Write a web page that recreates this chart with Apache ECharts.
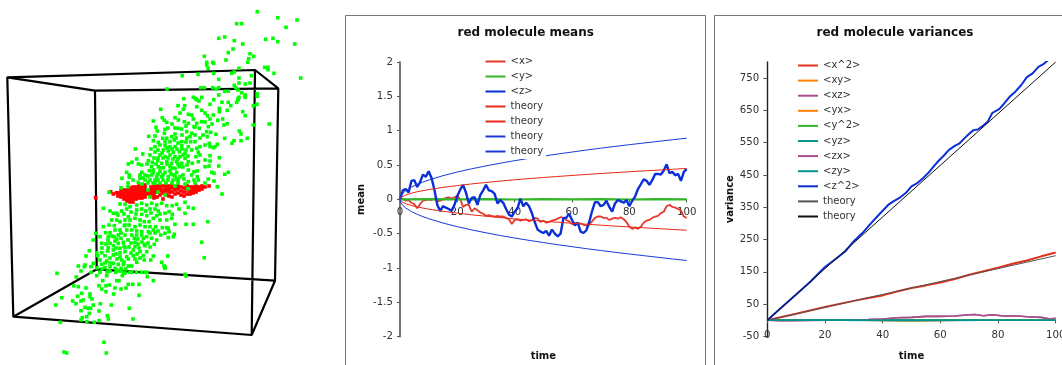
<!DOCTYPE html>
<html><head><meta charset="utf-8">
<style>html,body{margin:0;padding:0;background:#fff}#c{width:1062px;height:365px}</style>
<script src="https://cdn.jsdelivr.net/npm/echarts@6/dist/echarts.min.js"></script>
</head><body><div id="c"></div>
<script>
// ---- wire cube seen in the left panel (panel pixel units) ----
const cubeEdges = [[7.3,77.3],[255,70],[278.3,88.3],[95,90.7],[7.3,77.3],[13.3,316.7],[251.7,335],[275,280.7],[96.7,269.3],[13.3,316.7],null,
  [255,70],[251.7,335],null,[278.3,88.3],[275,280.7],null,[95,90.7],[96.7,269.3]];
const greenDots = [[257.3,11.7],[277.7,17.7],[297,20],[286,27.3],[236.7,23.7],[241.7,23.7],[218.7,38.3],[224.7,37],[234.3,40.7],[242.7,44],[265.7,39.3],[273,38.3],[277.7,41.7],[294.7,44],[233,49],[228.3,52.7],[250,53.7],[253.7,56.3],[248.7,58.7],[247.7,62.3],[204.3,56.3],[226,60],[206.7,62.3],[212.7,62.3],[213.7,63.3],[206.7,65],[208,68.3],[239,68.3],[264.7,67.3],[268,67.3],[268,69.7],[274,73.3],[300.7,78],[182.3,75.7],[198,74.3],[213.7,73.3],[231.7,73.3],[234.3,72],[251.3,75.7],[218.7,79.3],[239,78],[239,83],[245.3,84],[250,83],[234.3,85.3],[167,89],[200.7,87.7],[204.3,87.7],[212.7,87.7],[216,89],[218.7,87.7],[224.7,91.3],[228.3,91.3],[235.7,87.7],[238,90],[241.7,92.7],[218.7,95],[245.3,95],[245.3,97.3],[257.3,93.7],[257.3,96.3],[239,97.3],[183.7,98.7],[193.3,97.3],[195.7,98.7],[201.7,97.3],[213.7,99.7],[238,99.7],
[196.7,99.7],[199,101],[222,102.3],[228.3,102.3],[230.7,105.7],[236.7,102.3],[238.3,98.7],[245,96.7],[257,104.3],[253.3,105.7],[178,105.7],[184.7,105.7],[183.3,109.3],[196.7,106.7],[210,104.3],[219.3,108.3],[219.3,111.7],[227.3,110.3],[160.7,109.3],[180,113],[175,117.7],[178.3,120],[188.3,114.3],[191.7,115],[201.7,110.3],[205,113],[207.3,115.7],[210,119],[213.3,115],[217.7,120.3],[222.7,119],[227.3,123.7],[224,125],[242.7,111.7],[245.3,115.7],[153.3,121],[162.3,117.7],[164.3,120.3],[166.7,122.3],[184.3,121.7],[188.3,123.3],[193.3,119],[196.7,123.3],[201.7,121.7],[194,126.7],[199.3,128.3],[208.3,126.7],[178.3,128.3],[181.7,129],[156,127.3],[157.3,131],[165,129.3],[164.3,133.3],[186.7,131.7],[191.7,133.3],[190,136.7],[175,134],[171.7,136.7],[206.7,131.7],[210.7,132.3],[207.3,136.7],[216,134.3],[239.3,131],[241,134],[148.7,136.3],[224.7,138.3],[234,140.7],[232,143.3],[241,140.7],[247.3,138.3],[269.3,124],[253.3,125],
[153.3,140.7],[158.3,142.3],[162.7,138.3],[166.7,138.3],[170,141.7],[174.3,140],[181.7,141.7],[186.7,138.3],[190.7,141.7],[195,141.7],[200,146.7],[205,145],[209.3,143.3],[210,146.7],[217.3,144.3],[215,146.7],[213.3,147.7],[155,146.7],[151,149],[135.3,149],[160,145],[165,145.7],[170,146.7],[175,146.7],[181.7,145.7],[188.3,146.7],[191.7,150],[196.7,148.3],[142.7,154],[163.3,150],[168.3,151],[173.3,152.3],[179.3,151.7],[185,153.3],[198.3,152.3],[200,155],[196,156.7],[160,155],[165,156.7],[170,155],[175,156.7],[180,156.7],[185,158.3],[210,155.7],[205,160],[210,161],[219.3,157.7],[136.7,159],[148.3,160.7],[152.3,162.3],[157.7,160.7],[161.7,163.3],[166.7,161.7],[171.7,163.3],[176.7,161.7],[181.7,163.3],[188.3,161.7],[192.3,163.3],[198.3,161.7],[128.3,164],[132,162.3],[138.3,164],[141.7,165],[151.7,166.7],[158.3,166.7],[163.3,167.7],[170,166.7],[175,168.3],[179.3,166.7],[205,166.7],[209,166],[218.7,166],[149.3,170.7],[153.3,170],[160,171.7],[165,172.3],[170,171],[176.7,172.3],[188.3,170],[194,171.7],[197.3,171],[126.7,172.3],[129.3,175],[141.7,172.3],[211.7,172.3],[214,173.3],[228.3,172.3],[224.7,174.3],[140,175],[145,175],[151.7,175],[156.7,176.7],[161.7,176.7],[168.3,176.7],[173.3,175],[180,176.7],[191.7,175],[197.3,176.7],[122,178.3],[129.3,177.3],[140,178.3],[145,180],[150,180],[155,180],[176.7,179],[194,180],[198.3,180],[208.3,179],[214,181],[138.3,182.3],[188.3,181.7],
[158,150],[162,153],[167,148],[172,149],[177,149],[182,149],[186,150],[158,158],[163,158],[168,158],[173,159],[178,159],[183,155],[188,156],[155,152],[150,155],[154,158],[147,164],[156,164],[160,168],[167,164],[172,168],[178,164],[183,167],[187,165],[153,173],[158,174],[163,175],[171,174],[175,176],[148,176],[143,178],[148,183],[153,183],[158,180],[163,180],[168,180],[173,180],[178,180],[183,175],[184,179],[155,136],[175,128],[195,135],[200,138],[182,135],[168,128],[172,124],[186,126],[205,122],[212,124],[176,138],[165,142],[195,127],[203,135],[178,143],[186,142],[133,180],[160,183],[172,183],[185,184],
[121,187.7],[217.3,186.7],[222,194],[109,192.3],[128,186.7],[148,190],[158,192],[175,186],[188,188.7],[150,197],[165,195],[128,183],[142,184],[155,183],[166,183],[178,183],[195,183],[205,183],
[103.3,208.3],[110,211],[120,204],[125,204.3],[130,206.7],[126.7,209],[121.7,211],[116.7,213.3],[113.3,213.3],[136.7,205],[141.7,203.3],[146.7,205],[151.7,203.3],[156.7,205],[161.7,203.3],[136.7,210],[141.7,209],[145.7,211],[150,209],[155,209],[158.3,211],[166.7,205.7],[172.3,205.7],[176.7,204.3],[179,209],[185,202.3],[188.3,207.3],[193.3,208.3],[185,213.3],[165,213.3],[169,211.7],[172.3,214.3],[166.7,220],[171.7,218.3],[141.7,214.3],[146.7,215.7],[156.7,215.7],[153.3,218.3],[160,220],[128.3,216.7],[125,220],[130,220],[135,218.3],[140,220],[144.3,221.7],[149,221.7],[111.7,220],[116.7,220],[120,221.7],[103.3,226.7],[109,225],[114.3,225.7],[124.3,225.7],[129,225],[135,226.7],[140,225],[145,226.7],[150,226.7],[155.7,226.7],[175,224.3],[186,224.3],[193.3,224.3],[207.7,221.7],[162.3,227.7],[166.7,227.7],[115,230],[120,230],[126.7,230],[131.7,230],[136.7,231],[141.7,231.7],[148.3,231.7],[153.3,230],[168.3,228.3],[105.7,232.7],[110,232.7],[95.7,233.3],[100,236.7],[108.3,236.7],[114,236.7],[118.3,235],[125,235],[131.7,235],[136.7,235],[141.7,235],[146.7,236.7],[160.7,235],[165,233.3],[169,231.7],[174.3,234.3],[173.3,236.7],[116.7,239],[121,238.3],[134.3,238.3],[137.7,239],[143.3,238.3],[151.7,238.3],[156.7,240],[168.3,237.7],[93.3,240],[110,243.3],[101.7,243.3],[118.3,243.3],[123.3,242.3],[135,242.3],[144.3,244.3],[154.3,244.3],[201.7,242.3],[113.3,245.7],[108.3,247.7],[120,248.3],[125,247.7],[135,246.7],[145,245.7],[89.3,250.7],[96.7,252.7],[101.7,252.7],[107.7,251],[113.3,250],[120,252.7],[125,251.7],[133.3,250],[140,251.7],[146.7,251.7],[86,256],[97.7,255.7],[105,255.7],[113.3,255],[120,256.7],[126.7,256.7],[133.3,255.7],[143.3,255.7],[153.3,256],[167.7,256],[204.3,257.7],[100,260],[106.7,261],[121.7,260],[128.3,259],[144.3,260],[150.7,260],[161.7,262.3],[136.7,262.3],[93.3,263.3],[101.7,264.3],[113.3,263.3],[118.3,264.3],[123.3,264.3],[128.3,266],[131.7,266],[85,265],[91,266.7],[164,266],[105,267.7],[110,266.7],[115,268.3],[121,268.3],[125.7,269],[165,268.3],[91,272.3],[100,272.3],[110,271],[115.7,272.3],[121.7,271],[130,272.3],[145.7,272.3],[136.7,272.3],[185,274.3],
[118,215],[124,214],[131,212],[136,214],[151,213],[160,214],[125,225],[121,233],[128,240],[131,243],[124,246],[138,244],[115,241],[112,236],[108,240],[102,248],[106,244],[116,248],[129,247],[131,253],[137,254],[116,254],[110,258],[117,259],[124,262],[110,263],[105,263],[97,268],[102,269],[107,272],[119,271],[125,273],[139,248],[142,242],[150,233],[155,233],[158,231],[148,243],[150,247],[140,258],[135,259],
[57,273.3],[76.3,277],[81,271],[78.3,266],[84.3,266.7],[96.7,275.7],[106.7,275.7],[108.3,271],[116.7,270],[123.3,273.3],[122.3,275.7],[131.7,272.3],[141.7,272.3],[146.7,272.3],[147.3,276.7],[165,266.7],[186,276],[102.7,280.7],[116.7,280.7],[119,280.7],[153.3,280.7],[73.7,285.7],[78.3,286.7],[86,288],[99,285.7],[101.7,289],[106,285.7],[109.3,285],[115,288],[121,289],[126,288],[128.3,284.3],[132.7,284.3],[139,284.3],[106,291.7],[113.7,294],[139,295.3],[81.7,293.3],[77.7,296.3],[90,294],[90,296.7],[61.7,297.7],[92,299],[83.3,300],[81,301],[72.7,301],[76,303.7],[55.7,305],[100.3,303.7],[111.3,305],[93.3,305],[85,307.3],[88.3,308.3],[90.7,308.3],[129.3,308.3],[81,310.7],[99,311],[89.3,313.3],[107.3,315.7],[108.3,319],[86.7,316.7],[82.3,317.7],[81,320],[133,319],[86.7,321.7],[99,320.7],[94.3,322.3],[60.3,322.3],[104,342.3],[64,352],[66.7,353],[106.3,353]];
const redDots = [[95.7,197.7],[110.7,191.7],[113.3,194],[116.7,192.7],[118,193],[118,196],[121,191],[121,194],[121,197],[124,190],[124,193],[124,196],[124,199],[127,190],[127,193],[127,196],[127,199],[127,201],[130,188],[130,191],[130,194],[130,197],[130,200],[130,202],[133,187],[133,190],[133,193],[133,196],[133,199],[133,202],[136,187],[136,190],[136,193],[136,196],[136,199],[139,186],[139,189],[139,192],[139,195],[139,198],[142,186],[142,189],[142,192],[142,195],[142,198],[145,185],[145,188],[145,191],[145,194],[145,197],[148,191],[148,194],[151,187],[151,190],[151,193],[151,196],[154,186],[154,189],[154,192],[154,195],[154,198],[157,186],[157,189],[157,192],[157,197],[160,185],[160,188],[160,191],[160,195],[163,186],[163,190],[163,193],[163,199],[166,185],[166,188],[166,191],[166,195],[169,186],[169,189],[169,192],[169,196],[172,185],[172,188],[172,192],[172,197],[175,187],[175,190],[175,194],[178,186],[178,189],[178,193],[181,187],[181,191],[181,195],[184,188],[184,192],[184,196],[187,186],[187,190],[187,194],[190,187],[190,191],[190,194],[193,187],[193,190],[193,193],[196,186],[196,189],[196,192],[199,187],[199,190],[202,186],[202,189],[205,187],[209,186]];

// ---- red molecule means ----
const meanX = [0,.01,-.02,-.01,-.05,-.07,-.13,-.07,-.02,-.01,0,-.01,.01,-.03,-.02,0,.02,.03,.01,.03,.05,0,-.11,-.08,-.08,-.18,-.13,-.16,-.19,-.21,-.24,-.23,-.24,-.25,-.24,-.25,-.25,-.27,-.29,-.36,-.3,-.29,-.31,-.3,-.29,-.32,-.3,-.27,-.28,-.33,-.31,-.34,-.33,-.31,-.3,-.28,-.26,-.27,-.3,-.32,-.36,-.34,-.36,-.35,-.37,-.38,-.37,-.32,-.27,-.25,-.25,-.27,-.27,-.3,-.28,-.27,-.28,-.26,-.29,-.33,-.4,-.43,-.41,-.43,-.4,-.34,-.31,-.3,-.27,-.25,-.24,-.2,-.18,-.1,-.08,-.11,-.12,-.14,-.16,-.25,-.27];
const meanY = [[0,0],[10,.003],[20,0],[30,.002],[40,-.002],[50,.002],[60,0],[70,.002],[80,-.002],[90,.002],[100,0]];
const meanZ = [0,.13,.15,.1,.27,.28,.18,.25,.36,.33,.41,.31,.14,-.08,-.17,-.1,-.12,-.14,-.17,-.08,.05,.14,.21,.1,-.06,.02,.03,-.08,.06,.13,.21,.13,.12,.08,-.06,-.01,-.05,-.14,-.22,-.25,-.18,-.13,.01,-.1,-.05,-.1,-.2,-.33,-.44,-.47,-.49,-.46,-.53,-.44,-.5,-.54,-.5,-.27,-.27,-.21,-.3,-.38,-.34,-.47,-.49,-.45,-.33,-.17,-.04,-.04,-.1,-.08,-.02,-.11,-.18,-.06,-.01,-.03,-.05,-.01,-.1,-.02,.04,.15,.22,.29,.27,.21,.28,.37,.37,.36,.42,.51,.38,.4,.35,.37,.27,.4,.44];
const theoryTimes = [0,.25,.5,1,2,4,6,8,10,15,20,25,30,35,40,45,50,55,60,65,70,75,80,85,90,95,100];
const theoryRed =   [0,.022,.032,.045,.064,.09,.11,.127,.142,.174,.2,.225,.246,.266,.285,.302,.318,.333,.348,.362,.376,.389,.402,.414,.426,.438,.45];
const theoryBlue =  [0,.044,.063,.089,.126,.178,.218,.252,.281,.345,.398,.445,.487,.527,.563,.597,.629,.66,.689,.718,.745,.771,.796,.82,.844,.868,.89];

// ---- red molecule variances ----
const varXX = [[0,0],[10,20],[20,41],[30,60],[35,69],[40,77],[45,89],[50,100],[55,108],[60,117],[65,128],[70,141],[75,152],[80,163],[85,175],[90,185],[95,198],[100,210]];
const varXY = [[0,0],[25,1],[50,-1],[75,1],[100,0]];
const varXZ = [[0,0],[5,-1],[20,0],[30,1],[35,2],[40,4],[45,8],[50,9],[55,12],[60,12],[65,13],[70,17],[72,18],[75,14],[78,17],[82,13],[87,13],[90,11],[95,9],[98,4],[100,6]];
const varYY = [[0,0],[50,.5],[100,.5]];
const varYZ = [[0,0],[25,.5],[50,-.5],[75,0],[100,0]];
const varZZ = [[0,0],[5,40],[10,80],[15,120],[20,165],[23,185],[27,213],[30,245],[33,270],[36,301],[39,330],[42,358],[44,370],[46,380],[48,394],[50,415],[52,425],[54,440],[56,458],[58,480],[59.5,495],[61,508],[63,528],[65,540],[66.5,547],[68.5,565],[70,578],[71.5,589],[73,591],[75,604],[76.5,616],[78,642],[80.5,655],[82,670],[84,692],[86,708],[88,728],[90,753],[92,765],[94,785],[96,795],[97,803],[100,825]];
const theoryLow = [[0,0],[100,200]];
const theoryHigh = [[0,0],[100,800]];
const varTicksY = [-50,50,150,250,350,450,550,650,750];

const FONT = '"DejaVu Sans", Verdana, sans-serif';
const C = {red:'#e5392f', thinRed:'#e62a18', green:'#34b52a', blue:'#0a2fd6', thinBlue:'#1a3bd8',
  xx:'#e0301a', orange:'#ff8000', purple:'#a8508c', teal:'#00968f', gray:'#555555', black:'#111111', axis:'#555555', text:'#333333'};

const byIndex = arr => arr.map((v,i)=>[i,v]);
const zip = (t,v) => t.map((x,i)=>[x,v[i]]);
const neg = arr => arr.map(([x,y])=>[x,-y]);
const ln = (name,data,color,width,xi) => ({type:'line',name,data,xAxisIndex:xi,yAxisIndex:xi,showSymbol:false,symbol:'none',
  lineStyle:{color,width},itemStyle:{color},silent:true,animation:false});
const legendFmt = n => n.replace(/^theory.*/,'theory');
const legendBase = {orient:'vertical',selectedMode:false,itemWidth:20,itemHeight:10,itemGap:5,padding:[3,3,2.5,0],
  itemStyle:{opacity:0},
  backgroundColor:'#fff',formatter:legendFmt,textStyle:{fontFamily:FONT,fontSize:10,color:C.text}};
const axisLab = {fontFamily:FONT,fontSize:10.2,color:C.text};
const nameLab = {fontFamily:FONT,fontSize:10,fontWeight:'bold',color:'#111'};
const titleText = {fontFamily:FONT,fontSize:12,fontWeight:'bold',color:'#111'};
const NOFIT = {outerBoundsMode:'none',containLabel:false};

const option = {
  animation:false, backgroundColor:'#fff',
  title:[
    {text:'red molecule means',left:525.7,top:26.5,textAlign:'center',textStyle:titleText,padding:0},
    {text:'red molecule variances',left:895,top:26.5,textAlign:'center',textStyle:titleText,padding:0}
  ],
  graphic:[
    {type:'rect',silent:true,z:-1,shape:{x:345.5,y:15.5,width:360,height:400},style:{fill:'#fff',stroke:'#777',lineWidth:1}},
    {type:'rect',silent:true,z:-1,shape:{x:714.5,y:15.5,width:400,height:400},style:{fill:'#fff',stroke:'#777',lineWidth:1}}
  ],
  grid:[
    {...NOFIT,left:400,top:62,width:286.7,height:274.7},
    {...NOFIT,left:767.3,top:62,width:288.4,height:274.4},
    {...NOFIT,left:0,top:0,width:340,height:365}
  ],
  xAxis:[
    {type:'value',gridIndex:0,min:0,max:100,interval:20,position:'bottom',offset:-137.35,name:'time',nameLocation:'middle',nameGap:152.5,nameTextStyle:nameLab,
     axisLine:{onZero:false,lineStyle:{color:C.axis,width:1}},axisTick:{length:3,inside:false,lineStyle:{color:C.axis}},axisLabel:{...axisLab,margin:8,showMinLabel:true,showMaxLabel:true,hideOverlap:false},splitLine:{show:false}},
    {type:'value',gridIndex:1,min:0,max:100,interval:20,position:'bottom',offset:-16.1,name:'time',nameLocation:'middle',nameGap:31.5,nameTextStyle:nameLab,
     axisLine:{onZero:false,lineStyle:{color:C.axis,width:1}},axisTick:{length:3,lineStyle:{color:C.axis}},axisLabel:{...axisLab,margin:10,hideOverlap:false},splitLine:{show:false}},
    {type:'value',gridIndex:2,min:0,max:340,show:false}
  ],
  yAxis:[
    {type:'value',gridIndex:0,min:-2,max:2,interval:.5,name:'mean',nameLocation:'middle',nameGap:34,nameTextStyle:nameLab,
     axisLine:{show:true,onZero:true,lineStyle:{color:C.axis,width:1.6}},axisTick:{show:true,length:3,lineStyle:{color:C.axis}},axisLabel:{...axisLab,margin:7,hideOverlap:false},splitLine:{show:false}},
    {type:'value',gridIndex:1,min:-50,max:800,name:'variance',nameLocation:'middle',nameGap:32,nameTextStyle:nameLab,
     axisLine:{show:true,onZero:false,lineStyle:{color:'#222',width:1.4}},axisTick:{show:true,length:4,customValues:varTicksY,lineStyle:{color:C.axis}},axisLabel:{...axisLab,margin:8,customValues:varTicksY,hideOverlap:false},splitLine:{show:false}},
    {type:'value',gridIndex:2,min:0,max:365,inverse:true,show:false}
  ],
  legend:[
    {...legendBase,left:484.5,top:53.5,data:['<x>','<y>','<z>','theory1','theory2','theory3','theory4']},
    {...legendBase,left:797,top:57.5,itemGap:5.1,data:['<x^2>','<xy>','<xz>','<yx>','<y^2>','<yz>','<zx>','<zy>','<z^2>','theory5','theory6']}
  ],
  series:[
    {type:'line',name:'cube',xAxisIndex:2,yAxisIndex:2,data:cubeEdges,connectNulls:false,symbol:'none',silent:true,z:1,lineStyle:{color:'#000',width:2.2}},
    {type:'scatter',name:'red',xAxisIndex:2,yAxisIndex:2,data:redDots,symbol:'rect',symbolSize:3.6,silent:true,z:3,itemStyle:{color:'#ff0000',opacity:1}},
    {type:'scatter',name:'green',xAxisIndex:2,yAxisIndex:2,data:greenDots,symbol:'rect',symbolSize:3.6,silent:true,z:4,itemStyle:{color:'#00ff00',opacity:1}},

    ln('<x>',byIndex(meanX),C.red,1.8,0),
    ln('<y>',meanY,C.green,2.2,0),
    ln('<z>',byIndex(meanZ),C.blue,2.4,0),
    ln('theory1',zip(theoryTimes,theoryRed),C.thinRed,1,0),
    ln('theory2',neg(zip(theoryTimes,theoryRed)),C.thinRed,1,0),
    ln('theory3',zip(theoryTimes,theoryBlue),C.thinBlue,1,0),
    ln('theory4',neg(zip(theoryTimes,theoryBlue)),C.thinBlue,1,0),

    ln('<x^2>',varXX,C.xx,2,1),
    ln('<xy>',varXY,C.orange,1.6,1),
    ln('<xz>',varXZ,C.purple,1.6,1),
    ln('<yx>',varXY,C.orange,1.6,1),
    ln('<y^2>',varYY,C.green,1.6,1),
    ln('<yz>',varYZ,C.teal,1.6,1),
    ln('<zx>',varXZ,C.purple,1.6,1),
    ln('<zy>',varYZ,C.teal,1.6,1),
    ln('<z^2>',varZZ,C.blue,2,1),
    ln('theory5',theoryLow,C.gray,1,1),
    ln('theory6',theoryHigh,C.black,1,1)
  ]
};
const chart = echarts.init(document.getElementById('c'),null,{renderer:'canvas'});
chart.setOption(option);
</script></body></html>
